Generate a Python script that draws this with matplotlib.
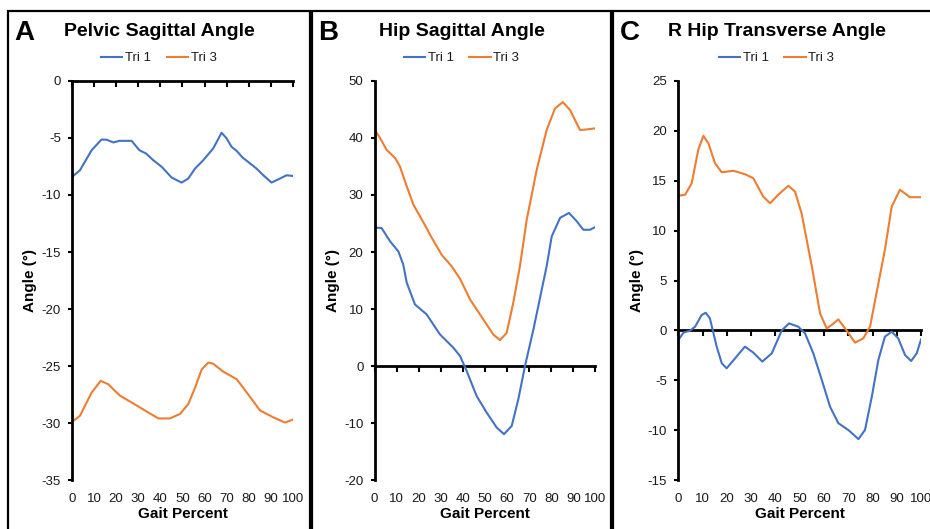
import matplotlib
matplotlib.use('Agg')
import matplotlib.pyplot as plt
from matplotlib.patches import Rectangle

plt.rcParams['font.family'] = ['Liberation Sans', 'DejaVu Sans']
plt.rcParams['axes.unicode_minus'] = False

# gait percent / angle values
gait_ticks = list(range(0, 101, 10))

pelvic_t1_x = [0, 3.6, 8.9, 13.4, 15.7, 18.7, 21.4, 27.0, 30.5, 33.5, 36.8, 40.6, 45.1, 49.6, 52.6,
               55.7, 59.4, 63.9, 67.7, 70.0, 72.2, 74.5, 77.2, 83.5, 86.6, 90.3, 94.1, 97.1, 100]
pelvic_t1_y = [-8.42, -7.83, -6.07, -5.13, -5.15, -5.39, -5.25, -5.25, -6.07, -6.36, -6.95, -7.53, -8.47,
               -8.91, -8.56, -7.68, -6.95, -5.92, -4.54, -5.04, -5.77, -6.13, -6.71, -7.68, -8.27, -8.91,
               -8.56, -8.27, -8.33]
pelvic_t3_x = [0, 3.6, 8.9, 13.0, 16.4, 21.7, 27.0, 33.0, 39.1, 44.3, 48.9, 52.6, 55.7, 58.7, 61.7,
               63.9, 68.5, 74.5, 79.0, 85.1, 91.1, 96.4, 100]
pelvic_t3_y = [-29.9, -29.37, -27.33, -26.3, -26.6, -27.6, -28.2, -28.9, -29.6, -29.6, -29.2, -28.35,
               -26.9, -25.3, -24.7, -24.8, -25.5, -26.15, -27.3, -28.9, -29.5, -29.96, -29.7]

hip_t1_x = [0, 3.2, 7.0, 10.8, 13.0, 14.6, 18.3, 23.6, 29.6, 35.7, 38.7, 41.7, 46.2, 50.8, 55.3,
            58.6, 62.1, 65.1, 68.1, 71.9, 77.9, 80.2, 84.0, 88.0, 91.5, 94.5, 97.5, 100]
hip_t1_y = [24.3, 24.2, 21.9, 20.1, 17.8, 14.6, 10.8, 9.05, 5.55, 3.2, 1.75, -0.87, -5.25, -8.2, -10.8,
            -11.95, -10.5, -5.8, 0, 6.4, 17.5, 22.75, 26.0, 26.85, 25.4, 23.9, 23.9, 24.4]
hip_t3_x = [0, 2.5, 5.5, 9.3, 11.5, 14.6, 17.6, 21.4, 25.9, 30.4, 34.9, 38.7, 43.2, 49.2, 53.8,
            56.8, 59.8, 62.8, 65.8, 68.9, 73.4, 77.9, 81.7, 85.2, 88.5, 93.0, 96.0, 100]
hip_t3_y = [41.5, 40.0, 37.9, 36.5, 35.0, 31.5, 28.3, 25.7, 22.5, 19.5, 17.5, 15.3, 11.7, 8.2, 5.5,
            4.55, 5.8, 11.1, 17.5, 25.7, 34.4, 41.4, 45.2, 46.3, 44.9, 41.4, 41.5, 41.7]

trans_t1_x = [0, 2.1, 4.8, 6.9, 9.6, 11.3, 13.0, 15.8, 17.9, 19.9, 23.4, 27.4, 30.9, 34.6, 38.5,
              42.6, 45.6, 49.4, 52.2, 55.6, 59.1, 62.5, 65.9, 70.0, 74.2, 76.9, 79.7, 82.4, 85.1,
              87.9, 90.6, 93.4, 95.9, 98.2, 100]
trans_t1_y = [-0.96, -0.23, -0.03, 0.37, 1.54, 1.77, 1.2, -1.63, -3.3, -3.8, -2.8, -1.63, -2.23, -3.13,
              -2.3, 0, 0.7, 0.37, -0.3, -2.3, -4.97, -7.65, -9.3, -9.98, -10.9, -9.98, -6.65, -2.97,
              -0.63, -0.13, -0.8, -2.47, -3.07, -2.3, -0.9]
trans_t3_x = [0, 2.8, 5.5, 8.2, 10.3, 12.4, 15.1, 17.9, 22.7, 27.5, 30.9, 35.0, 37.8, 41.2, 45.3,
              48.1, 50.8, 55.0, 58.4, 61.1, 63.2, 65.9, 68.7, 72.8, 76.2, 79.0, 82.4, 85.1, 87.9,
              91.3, 95.4, 100]
trans_t3_y = [13.5, 13.6, 14.75, 18.1, 19.5, 18.75, 16.75, 15.85, 16.0, 15.65, 15.25, 13.4, 12.75,
              13.6, 14.5, 13.9, 11.7, 6.4, 1.7, 0.2, 0.55, 1.1, 0.2, -1.23, -0.8, 0.4, 4.7, 8.06,
              12.4, 14.1, 13.35, 13.35]

BLUE = '#4472C4'
ORANGE = '#ED7D31'

fig = plt.figure(figsize=(9.3, 5.29), dpi=100)
frame_top = 0.979


def draw_panel(rect, panel, letter, title, t1, t3, yticks):
    # panel frame, title, letter and legend live in figure coords
    px0, px1 = panel
    fig.add_artist(Rectangle((px0, -0.1), px1 - px0, frame_top + 0.1,
                             transform=fig.transFigure, fill=False, lw=1.6, ec='black'))
    cx = (px0 + px1) / 2
    fig.text(cx, 0.94, title, ha='center', va='center', fontsize=14, fontweight='bold')
    fig.text(px0 + 0.007, 0.937, letter, ha='left', va='center', fontsize=20, fontweight='bold')

    ax = fig.add_axes(rect)
    ax.plot(t1[0], t1[1], color=BLUE, lw=1.5, label='Tri 1')
    ax.plot(t3[0], t3[1], color=ORANGE, lw=1.5, label='Tri 3')
    ax.set_xlim(0, 100)
    ax.set_ylim(yticks[0], yticks[-1])
    ax.set_yticks(yticks)
    ax.set_xticks(gait_ticks)
    for s in ['top', 'right', 'bottom']:
        ax.spines[s].set_visible(False)
    ax.spines['left'].set_linewidth(2)
    ax.tick_params(axis='x', length=0, pad=9, labelsize=9.5, labelcolor='#1a1a1a')
    ax.tick_params(axis='y', length=3, width=1.5, pad=5, labelsize=9.5, labelcolor='#1a1a1a')
    ax.set_xlabel('Gait Percent', fontsize=11, fontweight='bold', labelpad=2)
    ax.set_ylabel('Angle (°)', fontsize=11, fontweight='bold', labelpad=3)

    # horizontal axis line drawn where angle = 0
    zero_pos = (0 - yticks[0]) / (yticks[-1] - yticks[0])
    sec = ax.secondary_xaxis(zero_pos)
    sec.set_alignment('bottom')
    sec.set_xticks(gait_ticks)
    sec.tick_params(axis='x', direction='out', length=4, width=1.5, labelbottom=False, labeltop=False)
    sec.spines['bottom'].set_linewidth(2)

    ax.legend(loc='center', bbox_to_anchor=(cx, 0.89), bbox_transform=fig.transFigure, ncol=2,
              frameon=False, fontsize=9.5, handlelength=1.6, handletextpad=0.2, columnspacing=1.2,
              labelcolor='#1a1a1a')
    return ax


bottom, height = 0.0926, 0.7543
draw_panel([0.0774, bottom, 0.2376, height], (0.0086, 0.3333), 'A', 'Pelvic Sagittal Angle',
           (pelvic_t1_x, pelvic_t1_y), (pelvic_t3_x, pelvic_t3_y), list(range(-35, 1, 5)))
draw_panel([0.4027, bottom, 0.2376, height], (0.3355, 0.657), 'B', 'Hip Sagittal Angle',
           (hip_t1_x, hip_t1_y), (hip_t3_x, hip_t3_y), list(range(-20, 51, 10)))
draw_panel([0.7294, bottom, 0.261, height], (0.6591, 1.0108), 'C', 'R Hip Transverse Angle',
           (trans_t1_x, trans_t1_y), (trans_t3_x, trans_t3_y), list(range(-15, 26, 5)))

fig.savefig('out.png', dpi=100)
